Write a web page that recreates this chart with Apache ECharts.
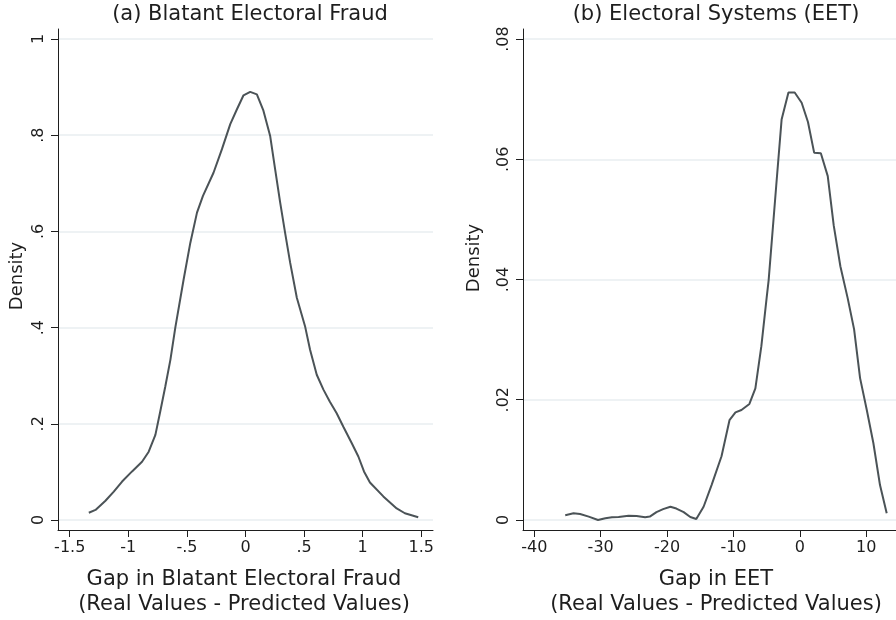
<!DOCTYPE html>
<html>
<head>
<meta charset="utf-8">
<script src="https://cdn.jsdelivr.net/npm/echarts@6/dist/echarts.min.js"></script>
<style>
html,body{margin:0;padding:0;background:#fff}
#chart{width:896px;height:620px}
</style>
</head>
<body>
<div id="chart"></div>
<script>
// (a) blatant electoral fraud: kernel density of the gap
const fraudX = [-1.337,-1.28,-1.195,-1.124,-1.053,-0.968,-0.883,-0.826,-0.769,-0.727,-0.684,-0.641,-0.599,-0.528,-0.471,-0.414,-0.363,-0.273,-0.201,-0.130,-0.073,-0.017,0.040,0.097,0.153,0.21,0.253,0.296,0.338,0.381,0.438,0.508,0.551,0.608,0.665,0.72,0.778,0.835,0.906,0.963,1.011,1.062,1.176,1.29,1.36,1.474];
const fraudY = [0.015,0.021,0.040,0.059,0.080,0.101,0.121,0.142,0.177,0.226,0.278,0.333,0.40,0.50,0.576,0.639,0.674,0.722,0.771,0.823,0.854,0.883,0.890,0.885,0.851,0.799,0.729,0.660,0.597,0.535,0.462,0.403,0.354,0.302,0.271,0.246,0.222,0.194,0.160,0.132,0.101,0.078,0.049,0.024,0.014,0.0056];

// (b) electoral systems (EET)
const eetX = [-35.34,-34.09,-33.1,-31.8,-30.4,-29.3,-28.3,-27.3,-25.8,-24.6,-23.3,-22.6,-21.6,-20.6,-19.5,-18.6,-17.5,-16.5,-15.6,-14.5,-13.3,-11.8,-10.6,-9.7,-8.8,-7.6,-6.7,-5.8,-5.0,-4.7,-3.56,-2.75,-1.72,-0.78,0.27,1.22,2.15,3.16,4.2,5.1,6.1,7.2,8.17,9.07,10.08,11.07,12.07,13.08];
const eetY = [0.0008,0.0011,0.001,0.00056,0,0.0003,0.00044,0.0005,0.0007,0.00067,0.00044,0.00056,0.0013,0.0018,0.0022,0.0019,0.0013,0.0005,0.00017,0.0022,0.0058,0.0106,0.0166,0.0179,0.0183,0.0193,0.0219,0.0289,0.037,0.0399,0.0556,0.0666,0.0711,0.0711,0.0694,0.0662,0.0611,0.061,0.0572,0.049,0.0422,0.0369,0.0317,0.0236,0.0183,0.0128,0.0058,0.0011];

const fraudXTicks = [-1.5,-1,-0.5,0,0.5,1,1.5];
const fraudYTicks = [0,0.2,0.4,0.6,0.8,1];
const eetXTicks = [-40,-30,-20,-10,0,10];
const eetYTicks = [0,0.02,0.04,0.06,0.08];

const FONT = 'DejaVu Sans';
const ink = '#1e1e1e';
const lineColor = '#4b5357';

// stata style: ".5" instead of "0.5"
function stataFmt(v){
    let s = String(+v.toFixed(4));
    return s.replace(/^(-?)0\./, '$1.');
}

function xAxisOf(gridIndex, min, max, ticks){
    return {
        type:'value', gridIndex, min, max,
        axisLine:{ show:true, onZero:false, lineStyle:{ color:ink, width:1 } },
        axisTick:{ show:true, length:7, customValues:ticks, lineStyle:{ color:ink } },
        axisLabel:{ customValues:ticks, formatter:stataFmt, margin:10, fontFamily:FONT, fontSize:16, color:ink,
            showMinLabel:true, showMaxLabel:true, hideOverlap:false },
        splitLine:{ show:false }
    };
}
function yAxisOf(gridIndex, min, max, ticks){
    return {
        type:'value', gridIndex, min, max,
        axisLine:{ show:true, onZero:false, lineStyle:{ color:ink, width:1 } },
        axisTick:{ show:true, length:7, customValues:ticks, lineStyle:{ color:ink } },
        axisLabel:{ customValues:ticks, formatter:stataFmt, rotate:90, margin:11, fontFamily:FONT, fontSize:16, color:ink },
        splitLine:{ show:true, lineStyle:{ color:'#e9eef0', width:1.5 } }
    };
}

function textEl(x, y, text, size, rot){
    return {
        type:'text', x, y, rotation:rot || 0,
        style:{ text, fill:ink, fontFamily:FONT, fontSize:size, lineHeight:25,
            align:'center', verticalAlign:'middle', textAlign:'center', textVerticalAlign:'middle' }
    };
}

const chart = echarts.init(document.getElementById('chart'));
chart.setOption({
    backgroundColor:'#fff',
    animation:false,
    grid:[
        { left:58, right:463, top:29, bottom:90 },
        { left:523, right:0, top:29, bottom:90 }
    ],
    xAxis:[
        xAxisOf(0, -1.6, 1.6, fraudXTicks),
        xAxisOf(1, -41.7, 14.48, eetXTicks)
    ],
    yAxis:[
        yAxisOf(0, -0.0208, 1.0208, fraudYTicks),
        yAxisOf(1, -0.00167, 0.08167, eetYTicks)
    ],
    series:[
        {
            type:'line', xAxisIndex:0, yAxisIndex:0, showSymbol:false, smooth:false,
            lineStyle:{ color:lineColor, width:2 },
            data:fraudX.map((x,i)=>[x, fraudY[i]])
        },
        {
            type:'line', xAxisIndex:1, yAxisIndex:1, showSymbol:false, smooth:false,
            lineStyle:{ color:lineColor, width:2 },
            data:eetX.map((x,i)=>[x, eetY[i]])
        }
    ],
    graphic:[
        textEl(250, 15, '(a) Blatant Electoral Fraud', 21),
        textEl(716, 15, '(b) Electoral Systems (EET)', 21),
        textEl(244, 592, 'Gap in Blatant Electoral Fraud\n(Real Values - Predicted Values)', 21),
        textEl(716, 592, 'Gap in EET\n(Real Values - Predicted Values)', 21),
        textEl(17, 276, 'Density', 18, Math.PI/2),
        textEl(474, 258, 'Density', 18, Math.PI/2)
    ]
});
</script>
</body>
</html>
